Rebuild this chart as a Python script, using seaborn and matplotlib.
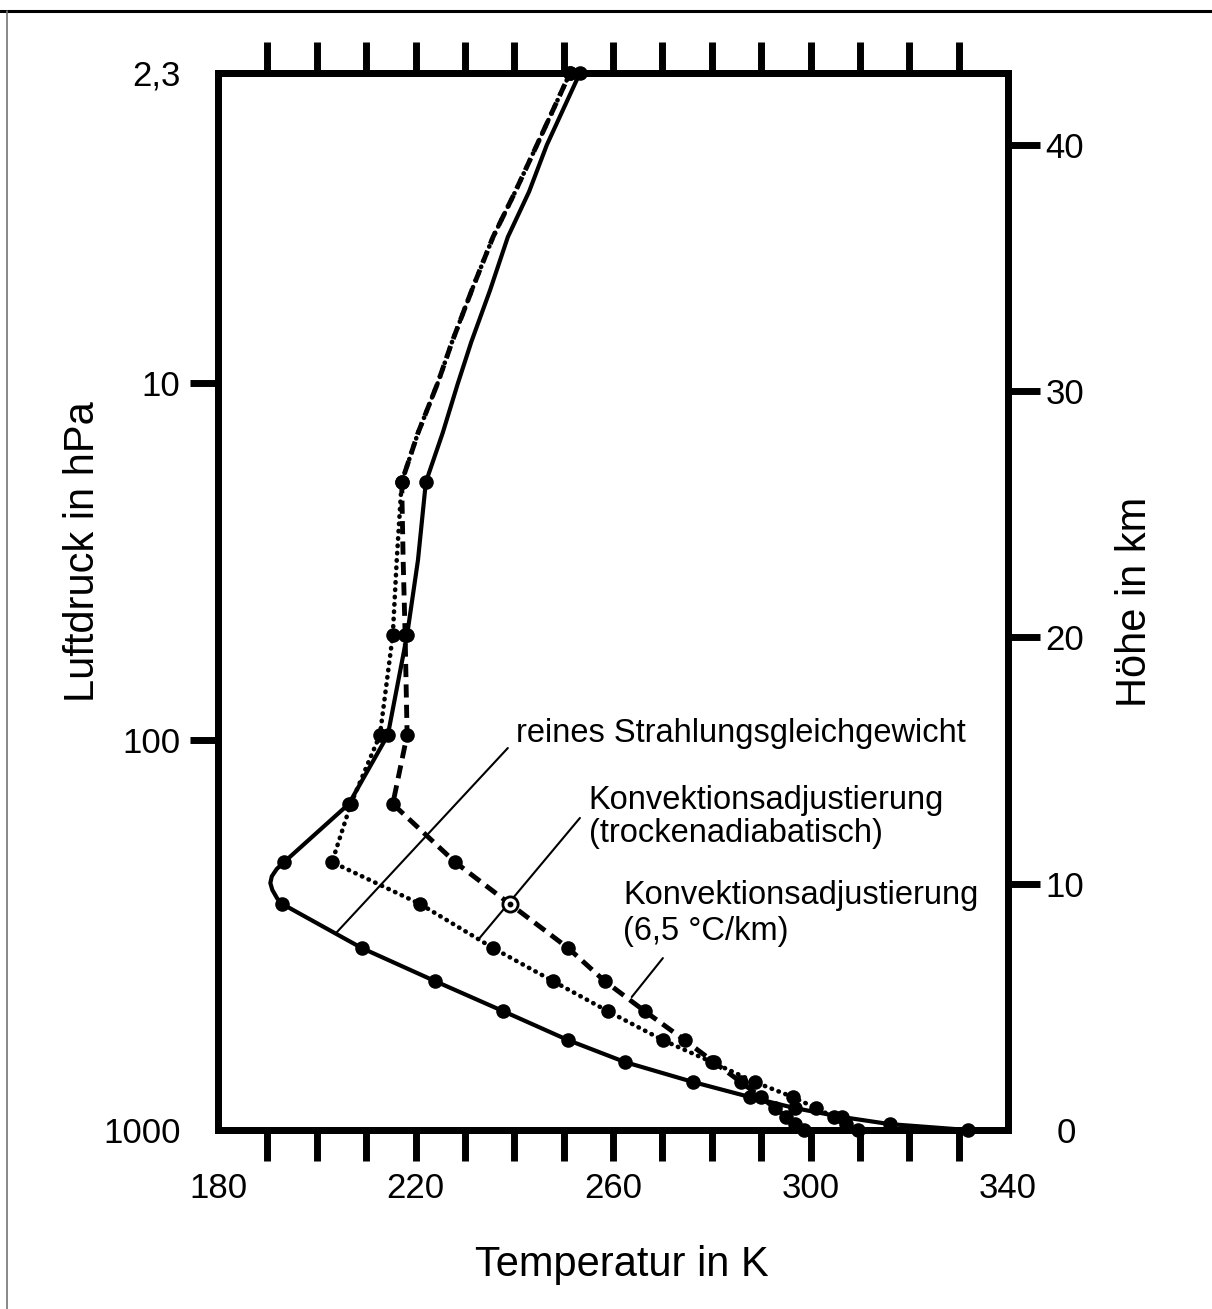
import matplotlib.pyplot as plt
import seaborn as sns
import numpy as np
import pandas as pd
from matplotlib.lines import Line2D

# model levels in km (each profile has a dot there)
level_km = [0, 0.24, 0.53, 0.89, 1.34, 1.95, 2.76, 3.65, 4.83, 6.05, 7.39,
            9.18, 10.88, 13.24, 16.04, 20.10, 26.31, 42.92]
T_rad = [331.8, 316.0, 306.3, 296.8, 287.7, 276.2, 262.4, 250.9, 237.7, 223.9, 209.1,
         193.0, 193.4, 206.5, 214.4, 218.3, 222.1, 253.3]
T_dry = [309.6, 307.1, 304.7, 301.1, 296.4, 288.7, 280.0, 270.1, 258.9, 247.8, 235.7,
         220.9, 203.1, 206.9, 212.8, 215.4, 217.2, 251.3]
T_65 = [298.6, 296.9, 295.1, 292.8, 289.9, 285.9, 280.4, 274.5, 266.4, 258.3, 250.9,
        239.1, 228.0, 215.4, 218.3, 217.9, 217.2, 251.3]

# extra points read off the curves between the levels (no dots)
rad_extra_km = [9.4, 9.75, 10.03, 10.3, 10.6, 23.14, 28.3, 30.33, 32.0, 34.1, 36.26, 38.1, 40.0]
rad_extra_T = [192.0, 191.0, 190.6, 190.9, 191.9, 220.5, 225.5, 228.6, 231.3, 235.1,
               238.7, 243.0, 246.6]
conv_extra_km = [23.14, 28.3, 30.33, 32.0, 34.1, 36.26, 38.1, 40.0]
dry_extra_T = [216.2, 220.5, 224.5, 227.4, 231.4, 235.7, 240.2, 244.6]
w65_extra_T = [217.5, 220.5, 224.5, 227.4, 231.4, 235.7, 240.2, 244.6]

ring_km = 9.18  # open circle on the 6.5 K/km curve

temp_ticks = [180, 220, 260, 300, 340]
pressure_labels = ["1000", "100", "10", "2,3"]
pressure_km = [0, 15.83, 30.33, 42.92]
height_ticks = [0, 10, 20, 30, 40]

sns.set_theme(style="white", rc={"text.color": "black", "axes.labelcolor": "black",
                                 "xtick.color": "black", "ytick.color": "black",
                                 "axes.edgecolor": "black"})
plt.rcParams['font.family'] = ['Liberation Sans', 'DejaVu Sans']

fig = plt.figure(figsize=(12.12, 13.09), dpi=100)
ax = fig.add_axes([218 / 1212, 1 - 1130 / 1309, 790 / 1212, 1057 / 1309])


def profile(T_lev, extra_km, extra_T):
    return pd.DataFrame({"km": level_km + extra_km, "T": T_lev + extra_T})


curves = [
    (profile(T_rad, rad_extra_km, rad_extra_T), "-", 3.0, "butt"),
    (profile(T_dry, conv_extra_km, dry_extra_T), (0, (0.1, 1.5)), 3.3, "round"),
    (profile(T_65, conv_extra_km, w65_extra_T), (0, (2.7, 1.5)), 3.5, "butt"),
]
for df, ls, lw, cap in curves:
    sns.lineplot(data=df, x="T", y="km", orient="y", estimator=None, sort=True,
                 color="black", lw=lw, linestyle=ls, ax=ax)
    ax.lines[-1].set_dash_capstyle(cap)

for T_lev in (T_rad, T_dry, T_65):
    sns.scatterplot(x=T_lev, y=level_km, color="black", s=110, linewidth=0,
                    clip_on=False, zorder=4, ax=ax)

ring_T = T_65[level_km.index(ring_km)]
ax.scatter([ring_T], [ring_km], s=120, facecolor="white", edgecolor="black",
           linewidth=2, zorder=5)
ax.scatter([ring_T], [ring_km], s=10, color="black", zorder=6)

# labels with leader lines
ax.plot([238.7, 204.1], [15.51, 8.04], color="black", lw=1.5)
ax.plot([253.3, 233.0], [12.67, 7.80], color="black", lw=1.5)
ax.plot([270.1, 263.8], [6.98, 5.40], color="black", lw=1.5)
ax.text(240.3, 16.12, "reines Strahlungsgleichgewicht", fontsize=23.5,
        ha="left", va="center")
ax.text(255.1, 12.70, "Konvektionsadjustierung\n(trockenadiabatisch)", fontsize=23.5,
        ha="left", va="center", linespacing=1.1)
ax.text(262.0, 8.78, "Konvektionsadjustierung\n(6,5 °C/km)", fontsize=23.5,
        ha="left", va="center", linespacing=1.2)

ax.set_xlim(180, 340)
ax.set_ylim(0, 42.92)

ax.set_xticks(temp_ticks, labels=[str(t) for t in temp_ticks])
ax.set_xticks(np.arange(190, 331, 10), minor=True)
ax.xaxis.remove_overlapping_locs = False
ax.tick_params(axis="x", which="major", length=0, pad=30, labelsize=25,
               bottom=True, top=False)
ax.tick_params(axis="x", which="minor", length=22, width=5, direction="out",
               bottom=True, top=True)

ax.set_yticks([pressure_km[0], pressure_km[3]],
              labels=[pressure_labels[0], pressure_labels[3]])
ax.set_yticks(pressure_km[1:3], labels=pressure_labels[1:3], minor=True)
ax.tick_params(axis="y", which="major", length=0, pad=27, labelsize=25,
               left=True, right=False)
ax.tick_params(axis="y", which="minor", length=20, width=5, pad=7, labelsize=25,
               direction="out", left=True, right=False)

ax2 = ax.twinx()
ax2.set_ylim(0, 42.92)
ax2.set_yticks(height_ticks[:1], labels=[str(h) for h in height_ticks[:1]])
ax2.set_yticks(height_ticks[1:], labels=[str(h) for h in height_ticks[1:]], minor=True)
ax2.tick_params(axis="y", which="major", length=0, pad=35, labelsize=25, right=True)
ax2.tick_params(axis="y", which="minor", length=23, width=5, pad=4, labelsize=25,
                direction="out", right=True)

for a in (ax, ax2):
    for sp in a.spines.values():
        sp.set_linewidth(5)
        sp.set_color("black")

ax.set_xlabel("Temperatur in K", fontsize=30)
ax.xaxis.set_label_coords(0.511, -0.109)
ax.set_ylabel("Luftdruck in hPa", fontsize=30, va="center")
ax.yaxis.set_label_coords(-0.171, 0.547)
ax2.set_ylabel("Höhe in km", fontsize=30, va="center", rotation=90)
ax2.yaxis.set_label_coords(1.161, 0.50)

# page frame of the scanned figure
fig.add_artist(Line2D([0, 1], [1 - 11 / 1309] * 2, color="black", lw=2.2,
                      transform=fig.transFigure))
fig.add_artist(Line2D([7 / 1212] * 2, [0, 1 - 11 / 1309], color="0.45", lw=1.2,
                      transform=fig.transFigure))

fig.savefig("out.png", dpi=100)
